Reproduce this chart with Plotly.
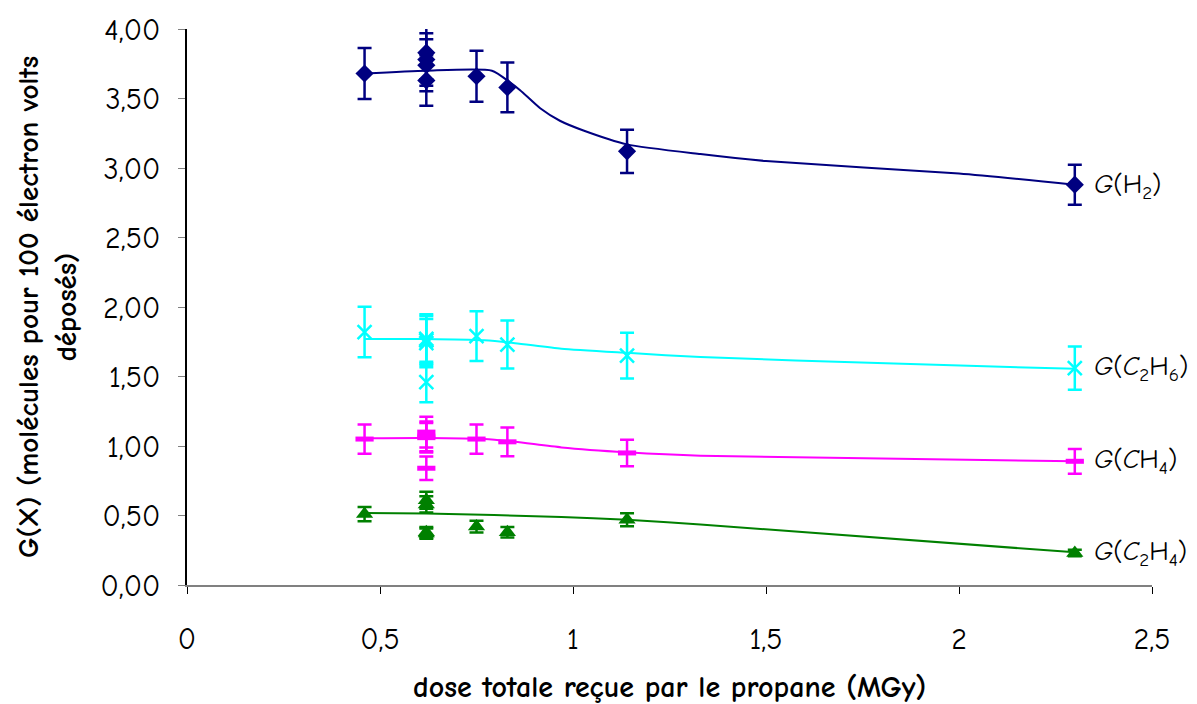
import plotly.graph_objects as go

# ---- measured points ----
dose_pts = [0.46, 0.62, 0.62, 0.62, 0.62, 0.75, 0.83, 1.14, 2.30]
g_h2 = [3.68, 3.83, 3.78, 3.74, 3.63, 3.66, 3.58, 3.12, 2.88]
g_c2h6 = [1.82, 1.77, 1.76, 1.74, 1.46, 1.79, 1.73, 1.65, 1.56]
g_ch4 = [1.05, 1.10, 1.07, 1.06, 0.84, 1.05, 1.03, 0.95, 0.89]
g_c2h4 = [0.51, 0.61, 0.58, 0.38, 0.37, 0.42, 0.38, 0.47, 0.23]

# error bars (percent of value)
err_pct_h2 = 5
err_pct_other = 10

# ---- fitted curves ----
fit_h2_x = [0.46, 0.62, 0.79, 0.835, 0.863, 0.915, 0.966, 1.027, 1.14, 1.33, 1.5, 2.0, 2.30]
fit_h2_y = [3.68, 3.70, 3.70, 3.62, 3.56, 3.43, 3.34, 3.27, 3.17, 3.10, 3.05, 2.96, 2.88]
fit_c2h6_x = [0.46, 0.62, 0.77, 0.85, 0.97, 1.14, 1.33, 1.81, 2.30]
fit_c2h6_y = [1.77, 1.77, 1.76, 1.74, 1.70, 1.67, 1.64, 1.595, 1.555]
fit_ch4_x = [0.46, 0.62, 0.77, 0.85, 0.97, 1.14, 1.33, 2.30]
fit_ch4_y = [1.056, 1.058, 1.05, 1.03, 0.99, 0.955, 0.93, 0.89]
fit_c2h4_x = [0.46, 0.62, 0.97, 1.14, 1.33, 2.30]
fit_c2h4_y = [0.518, 0.515, 0.49, 0.47, 0.435, 0.235]

labels = ["<i>G</i>(H<sub>2</sub>)", "<i>G</i>(<i>C</i><sub>2</sub>H<sub>6</sub>)",
          "<i>G</i>(<i>C</i>H<sub>4</sub>)", "<i>G</i>(<i>C</i><sub>2</sub>H<sub>4</sub>)"]
label_y = [2.87, 1.56, 0.885, 0.23]

x_title = "dose totale reçue par le propane (MGy)"
y_title_lines = ["G(X) (molécules pour 100 électron volts", "déposés)"]

FONT = "Comic Sans MS, Comic Neue, Open Sans, sans-serif"

fig = go.Figure()

series = [
    (fit_h2_x, fit_h2_y, g_h2, "#000080", err_pct_h2,
     dict(symbol="diamond", size=14, color="#000080", line=dict(width=0))),
    (fit_c2h6_x, fit_c2h6_y, g_c2h6, "#00FFFF", err_pct_other,
     dict(symbol="x-thin-open", size=14, color="#00FFFF", line=dict(width=2.5, color="#00FFFF"))),
    (fit_ch4_x, fit_ch4_y, g_ch4, "#FF00FF", err_pct_other,
     dict(symbol="line-ew-open", size=13, color="#FF00FF", line=dict(width=5, color="#FF00FF"))),
    (fit_c2h4_x, fit_c2h4_y, g_c2h4, "#008000", err_pct_other,
     dict(symbol="triangle-up", size=15, color="#008000", line=dict(width=0))),
]

for fx, fy, vals, col, pct, mk in series:
    fig.add_trace(go.Scatter(x=fx, y=fy, mode="lines",
                             line=dict(color=col, width=2, shape="spline", smoothing=0.6),
                             hoverinfo="skip", showlegend=False))
    fig.add_trace(go.Scatter(x=dose_pts, y=vals, mode="markers", marker=mk,
                             error_y=dict(type="percent", value=pct, color=col,
                                          thickness=2.5, width=7),
                             showlegend=False))

for txt, yv in zip(labels, label_y):
    fig.add_annotation(x=2.345, y=yv, xref="x", yref="y", text=txt, showarrow=False,
                       xanchor="left", yanchor="middle",
                       font=dict(family=FONT, size=27, color="black"))

fig.add_annotation(x=-0.145, y=0.5, xref="paper", yref="paper",
                   text="<br>".join("<b>" + s + "</b>" for s in y_title_lines),
                   showarrow=False, textangle=-90, xanchor="center", yanchor="middle",
                   font=dict(family=FONT, size=29, color="black"))
fig.add_annotation(x=0.5, y=-0.184, xref="paper", yref="paper", text="<b>" + x_title + "</b>",
                   showarrow=False, xanchor="center", yanchor="middle",
                   font=dict(family=FONT, size=30, color="black"))

fig.update_layout(
    width=1197, height=704,
    margin=dict(l=187, r=45, t=27, b=119),
    paper_bgcolor="white", plot_bgcolor="white",
    separators=", ",
    font=dict(family=FONT, size=30, color="black"),
    showlegend=False,
)
fig.update_xaxes(range=[0, 2.5], dtick=0.5, tick0=0, showgrid=False, zeroline=False,
                 showline=True, linecolor="#808080", linewidth=1.5,
                 ticks="outside", ticklen=7, tickcolor="black", tickwidth=1,
                 ticklabelstandoff=19, tickfont=dict(family=FONT, size=30))
fig.update_yaxes(range=[0, 4], dtick=0.5, tick0=0, tickformat=".2f", showgrid=False,
                 zeroline=False, showline=True, linecolor="black", linewidth=1.5,
                 ticks="outside", ticklen=7, tickcolor="#808080", tickwidth=1,
                 ticklabelstandoff=12, tickfont=dict(family=FONT, size=30))

fig.write_html("out.html")
